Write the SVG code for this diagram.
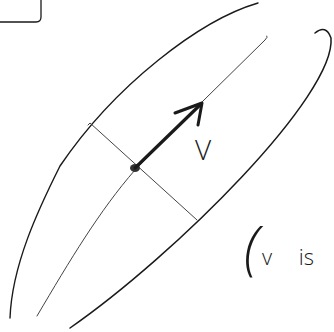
<svg xmlns="http://www.w3.org/2000/svg" width="334" height="332" viewBox="0 0 334 332">
<style>
.ink{fill:none;stroke:#1a1a1a;stroke-linecap:round;stroke-linejoin:round}
.thin{fill:none;stroke:#444;stroke-width:1;stroke-linecap:round}
.hand{font-family:"Open Sans","Liberation Sans",Arial,sans-serif;font-weight:300;fill:#1a1a1a}
</style>
<rect width="334" height="332" fill="#fff"/>
<g id="box-corner">
<path class="ink" stroke-width="1.3" d="M41,0 L41,17 Q41,22 36,22 L0,22"/>
</g>
<g id="ellipse">
<path class="ink" stroke-width="1.4" d="M258,3 C200,20 115,85 60,166 C38,210 12,265 10,318"/>
<path class="ink" stroke-width="1.5" d="M315,33 Q326,24 331,38 C336,95 175,255 70,328"/>
</g>
<g id="axes">
<path class="thin" d="M37,316 C70,260 100,210 135,170 L204,100 L265,40 Q268,37 267,36"/>
<path class="thin" d="M88,125 L90,123 L197,220"/>
</g>
<g id="vector-v">
<ellipse cx="135" cy="168" rx="5" ry="4" fill="#333"/>
<path class="ink" stroke-width="3.2" d="M135,168 L201,104"/>
<polyline class="ink" stroke-width="3" points="175,113 202,103 198,125"/>
<text class="hand" x="195" y="160" font-size="28">V</text>
</g>
<g id="note">
<text class="hand"><tspan x="244" y="268" font-size="58" font-style="italic">(</tspan><tspan x="262" y="265" font-size="22" word-spacing="21">v is</tspan></text>
</g>
</svg>
